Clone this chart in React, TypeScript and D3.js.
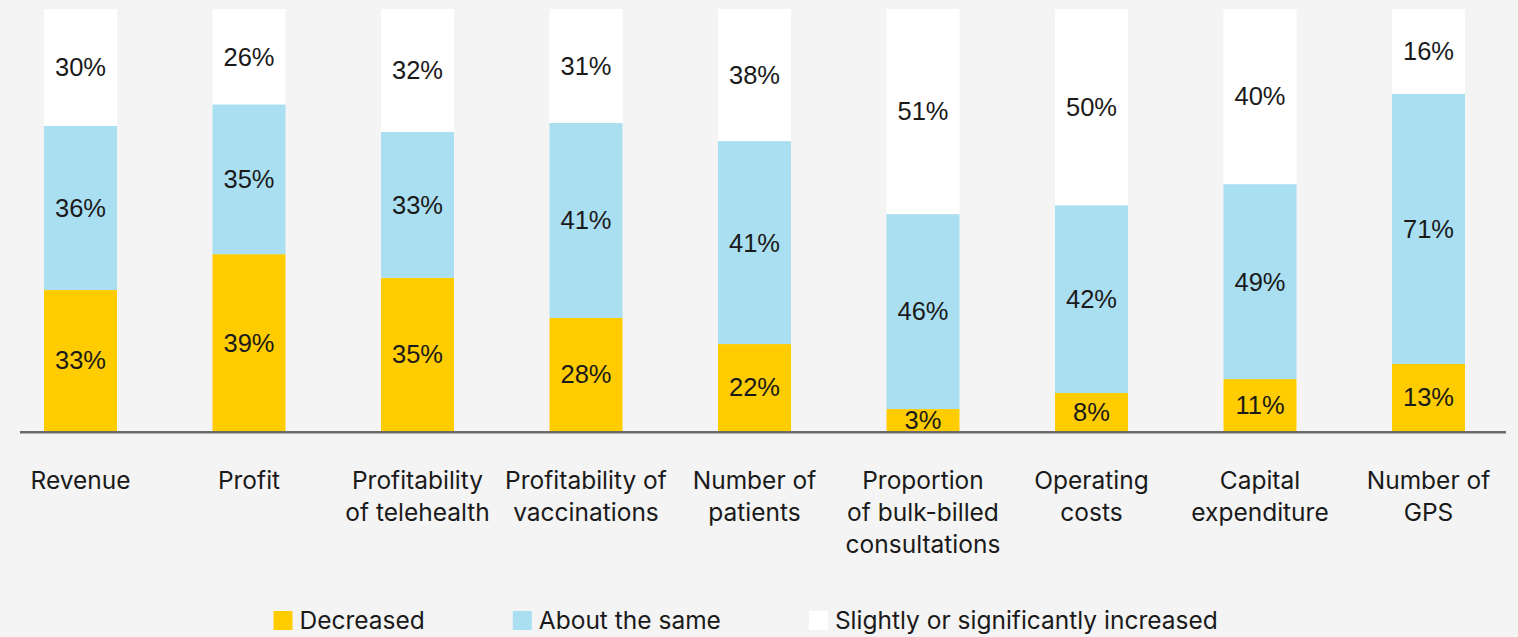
import React, { useEffect, useRef } from "react";
import * as d3 from "d3";

// Categories (line breaks as shown)
const categories: string[][] = [
  ["Revenue"],
  ["Profit"],
  ["Profitability", "of telehealth"],
  ["Profitability of", "vaccinations"],
  ["Number of", "patients"],
  ["Proportion", "of bulk-billed", "consultations"],
  ["Operating", "costs"],
  ["Capital", "expenditure"],
  ["Number of", "GPS"],
];

// Bar segment shares as drawn in the picture (percent of bar height)
const decreasedDrawn = [33.4, 41.9, 36.3, 26.8, 20.6, 5.2, 9.0, 12.3, 15.9];
const sameDrawn = [38.9, 35.5, 34.6, 46.2, 48.1, 46.2, 44.5, 46.2, 64.0];
const increasedDrawn = [27.7, 22.6, 29.1, 27.0, 31.3, 48.6, 46.5, 41.5, 20.1];

// Printed value labels
const decreasedLabels = [33, 39, 35, 28, 22, 3, 8, 11, 13];
const sameLabels = [36, 35, 33, 41, 41, 46, 42, 49, 71];
const increasedLabels = [30, 26, 32, 31, 38, 51, 50, 40, 16];

const seriesNames = ["Decreased", "About the same", "Slightly or significantly increased"];
const seriesColors = ["#ffcc00", "#aadff2", "#ffffff"];

const W = 1518;
const H = 637;
const FONT = "Inter, 'Liberation Sans', Arial, sans-serif";
const VFONT = "'Liberation Sans', Arial, sans-serif";

export default function App() {
  const ref = useRef<SVGSVGElement | null>(null);

  useEffect(() => {
    const svg = d3.select(ref.current);
    svg.selectAll("*").remove();

    svg.append("rect").attr("width", W).attr("height", H).attr("fill", "#f4f4f4");

    const keys = categories.map((c) => c.join(" "));
    const rows = keys.map((k, i) => ({
      key: k,
      s0: decreasedDrawn[i],
      s1: sameDrawn[i],
      s2: increasedDrawn[i],
    }));
    const labelSets = [decreasedLabels, sameLabels, increasedLabels];

    const stack = d3.stack<any>().keys(["s0", "s1", "s2"]);
    const stacked = stack(rows);

    const x = d3.scalePoint<string>().domain(keys).range([80.5, 1428.5]);
    const barW = 73;
    const y = d3.scaleLinear().domain([0, 100]).range([431, 9]);

    const g = svg.append("g");
    stacked.forEach((layer, si) => {
      const lg = g.append("g");
      lg.selectAll("rect")
        .data(layer)
        .join("rect")
        .attr("x", (d: any) => (x(d.data.key) as number) - barW / 2)
        .attr("width", barW)
        .attr("y", (d: any) => y(d[1]))
        .attr("height", (d: any) => y(d[0]) - y(d[1]))
        .attr("fill", seriesColors[si]);
      lg.selectAll("text")
        .data(layer)
        .join("text")
        .attr("x", (d: any) => x(d.data.key) as number)
        .attr("y", (d: any) => (y(d[0]) + y(d[1])) / 2)
        .attr("dy", "0.35em")
        .attr("text-anchor", "middle")
        .attr("font-family", VFONT)
        .attr("font-size", 25.5)
        .attr("fill", "#1a1a1a")
        .text((_d: any, i: number) => `${labelSets[si][i]}%`);
    });

    // Axis baseline
    svg.append("line")
      .attr("x1", 20)
      .attr("x2", 1506)
      .attr("y1", 432.3)
      .attr("y2", 432.3)
      .attr("stroke", "#6a6a6a")
      .attr("stroke-width", 2.5);

    // Category labels
    const cg = svg.append("g");
    categories.forEach((lines, i) => {
      const t = cg.append("text")
        .attr("text-anchor", "middle")
        .attr("font-family", FONT)
        .attr("font-size", 24.5)
        .attr("fill", "#1a1a1a");
      lines.forEach((ln, j) => {
        t.append("tspan")
          .attr("x", x(keys[i]) as number)
          .attr("y", 489 + j * 32)
          .text(ln);
      });
    });

    // Legend
    const leg = svg.append("g");
    const sw = 19;
    const gapText = 7;
    const gapItem = 88;
    const items = seriesNames.map((name, i) => {
      const ig = leg.append("g");
      ig.append("rect")
        .attr("x", 0)
        .attr("y", 611)
        .attr("width", sw)
        .attr("height", sw)
        .attr("fill", seriesColors[i]);
      const t = ig.append("text")
        .attr("x", sw + gapText)
        .attr("y", 629)
        .attr("font-family", FONT)
        .attr("font-size", 24.5)
        .attr("fill", "#1a1a1a")
        .text(name);
      const tw = (t.node() as SVGTextElement).getComputedTextLength();
      return { ig, w: sw + gapText + tw };
    });
    let cx = 273.5;
    items.forEach((it) => {
      it.ig.attr("transform", `translate(${cx},0)`);
      cx += it.w + gapItem;
    });
  }, []);

  return (
    <svg
      ref={ref}
      width={W}
      height={H}
      style={{ display: "block", position: "absolute", left: 0, top: 0 }}
    />
  );
}
